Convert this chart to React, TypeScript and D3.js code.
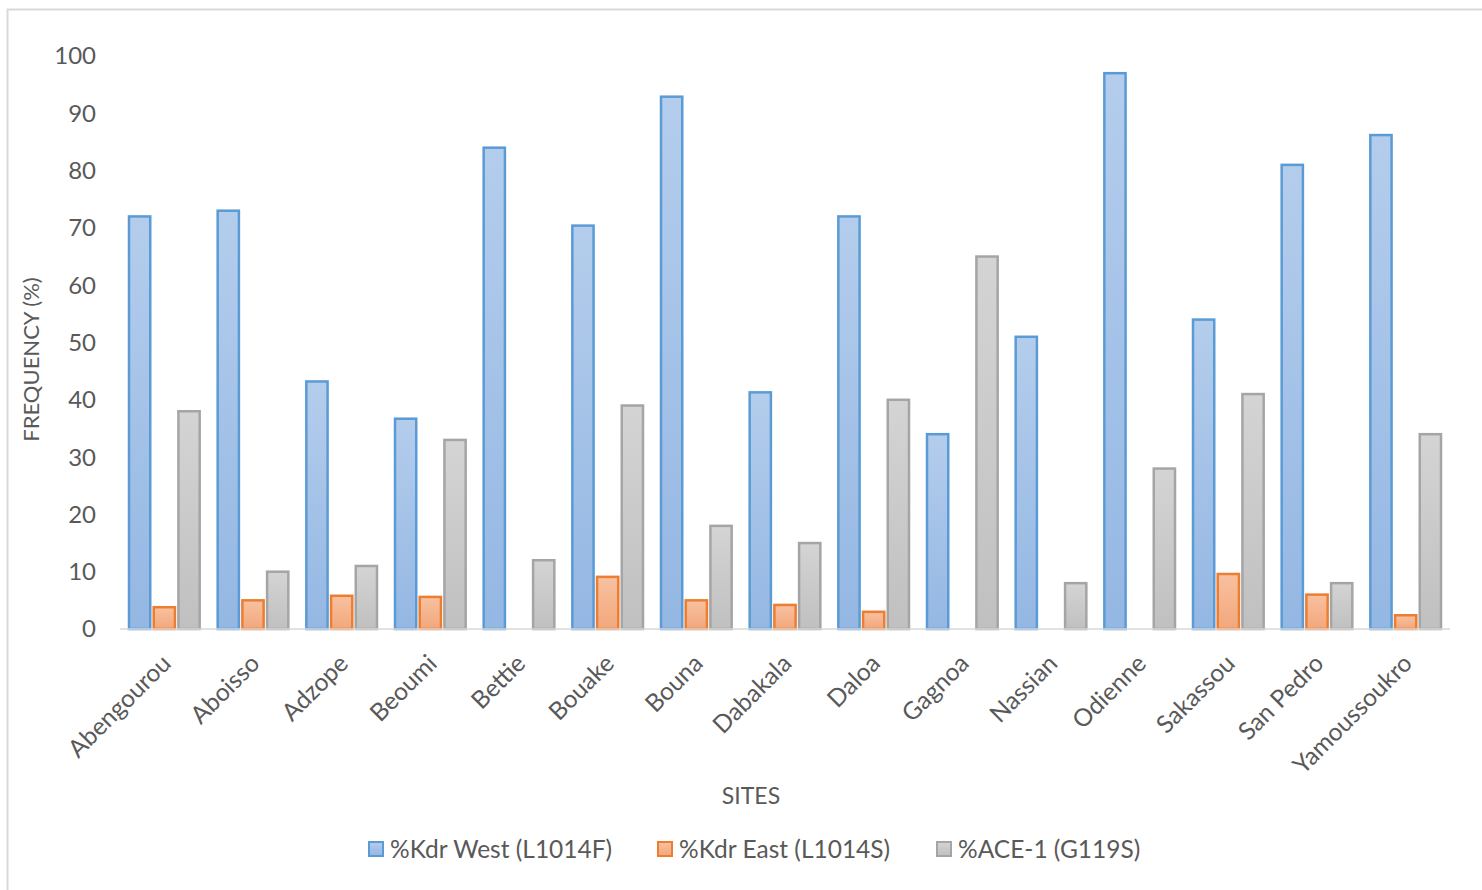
import React from "react";
import * as d3 from "d3";

const sites = [
  "Abengourou", "Aboisso", "Adzope", "Beoumi", "Bettie", "Bouake", "Bouna", "Dabakala",
  "Daloa", "Gagnoa", "Nassian", "Odienne", "Sakassou", "San Pedro", "Yamoussoukro",
];
const kdrWest = [72, 73, 43.2, 36.7, 84, 70.4, 92.9, 41.3, 72, 34, 51, 97, 54, 81, 86.2];
const kdrEast = [3.8, 5, 5.8, 5.6, 0, 9.1, 5, 4.2, 3, 0, 0, 0, 9.6, 6, 2.4];
const ace1 = [38, 10, 11, 33, 12, 39, 18, 15, 40, 65, 8, 28, 41, 8, 34];
const seriesNames = ["%Kdr West (L1014F)", "%Kdr East (L1014S)", "%ACE-1 (G119S)"];
const yTicks = [0, 10, 20, 30, 40, 50, 60, 70, 80, 90, 100];

const styles = [
  { top: "#b4cdec", bottom: "#94b7e3", stroke: "#5b9bd5" },
  { top: "#f8c1a0", bottom: "#f2a77c", stroke: "#ed7d31" },
  { top: "#d4d4d4", bottom: "#c0c0c0", stroke: "#a5a5a5" },
];

const W = 1482;
const H = 890;
const margin = { left: 120, right: 32, top: 56, bottom: 261 };
const font = "Lato, 'Open Sans', sans-serif";

export default function App() {
  const series = [kdrWest, kdrEast, ace1];
  const x = d3.scaleBand().domain(sites).range([margin.left, W - margin.right]).paddingInner(0).paddingOuter(0);
  const xi = d3.scaleBand().domain(["0", "1", "2"]).range([9, x.bandwidth() - 9]).paddingInner(0.14);
  const y = d3.scaleLinear().domain([0, 100]).range([H - margin.bottom, margin.top]);
  const y0 = y(0);

  return (
    <>
      <style>{"body{margin:0}"}</style>
      <svg width={W} height={H} style={{ display: "block", fontFamily: font }}>
        <defs>
          {styles.map((s, i) => (
            <linearGradient key={i} id={`g${i}`} x1="0" y1="0" x2="0" y2="1">
              <stop offset="0%" stopColor={s.top} />
              <stop offset="100%" stopColor={s.bottom} />
            </linearGradient>
          ))}
        </defs>
        <rect x={7.5} y={9.5} width={W + 20} height={H + 20} fill="white" stroke="#d9d9d9" strokeWidth={2} />

        {yTicks.map((t) => (
          <text key={t} x={96} y={y(t)} dy="0.35em" textAnchor="end" fontSize={24} fill="#595959">
            {t}
          </text>
        ))}

        {series.map((vals, si) =>
          vals.map((v, i) =>
            v > 0 ? (
              <rect
                key={`${si}-${i}`}
                x={(x(sites[i]) as number) + (xi(String(si)) as number)}
                y={y(v)}
                width={xi.bandwidth()}
                height={y0 - y(v)}
                fill={`url(#g${si})`}
                stroke={styles[si].stroke}
                strokeWidth={2.5}
              />
            ) : null
          )
        )}

        <line x1={margin.left} x2={W - margin.right} y1={y0} y2={y0} stroke="#d9d9d9" strokeWidth={1.5} />

        {sites.map((s) => {
          const cx = (x(s) as number) + x.bandwidth() / 2 + 8;
          const cy = y0 + 36;
          return (
            <text
              key={s}
              x={cx}
              y={cy}
              textAnchor="end"
              fontSize={24.5}
              fill="#595959"
              transform={`rotate(-45 ${cx} ${cy})`}
            >
              {s}
            </text>
          );
        })}

        <text x={751} y={796} dy="0.35em" textAnchor="middle" fontSize={23} fill="#595959">
          SITES
        </text>
        <text
          x={0}
          y={0}
          transform={`translate(31 ${(y(0) + y(100)) / 2 + 17}) rotate(-90)`}
          dy="0.35em"
          textAnchor="middle"
          fontSize={22}
          fill="#595959"
        >
          FREQUENCY (%)
        </text>

        {seriesNames.map((n, i) => {
          const lx = [369, 658, 937][i];
          return (
            <g key={n}>
              <rect x={lx} y={842} width={14} height={14} fill={`url(#g${i})`} stroke={styles[i].stroke} strokeWidth={2} />
              <text x={lx + 21} y={849} dy="0.35em" fontSize={24.5} fill="#595959">
                {n}
              </text>
            </g>
          );
        })}
      </svg>
    </>
  );
}
